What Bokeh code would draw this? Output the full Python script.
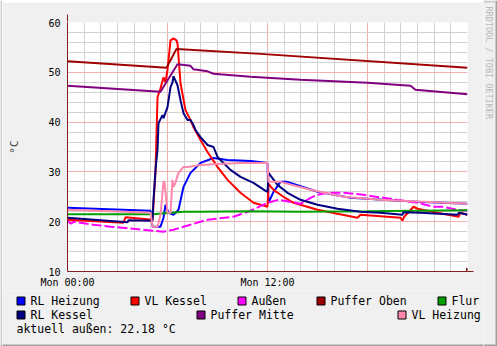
import math
from bokeh.plotting import figure
from bokeh.layouts import row, column
from bokeh.models import (Range1d, FixedTicker, SingleIntervalTicker, Arrow, NormalHead)
from bokeh.core.properties import value
from bokeh.embed import file_html
from bokeh.resources import INLINE

# ---------------- data (hours since Mon 00:00, °C) ----------------
rl_heizung_t = [0, 4.98, 5.1, 5.58, 5.76, 5.88, 6.06, 6.36, 6.66, 6.96, 7.38, 7.98, 8.76, 9.6, 11.0, 12.0,
                12.06, 12.36, 12.78, 13.2, 15.0, 16.98, 18.96, 21.0, 24]
rl_heizung_v = [22.8, 22.2, 19.0, 19.0, 20.8, 23.4, 21.8, 21.4, 22.4, 27.0, 29.8, 31.8, 32.8, 32.4, 32.2, 31.8,
                23.8, 26.0, 28.0, 28.0, 26.0, 24.8, 24.4, 24.0, 23.6]

vl_kessel_t = [0, 3.36, 3.48, 5.1, 5.28, 5.4, 5.58, 5.76, 5.88, 6.0, 6.18, 6.36, 6.54, 6.6, 6.78, 7.08, 7.38,
               7.56, 7.98, 8.4, 9.0, 9.6, 10.38, 11.16, 12.0, 12.06, 12.36, 12.96, 13.56, 15.0, 16.2, 17.4,
               17.58, 19.98, 20.1, 20.2, 20.76, 21.0, 22.2, 23.46, 23.58, 24]
vl_kessel_v = [20.4, 19.8, 20.9, 20.4, 30.0, 45.0, 46.8, 49.0, 48.0, 50.5, 56.4, 56.8, 56.4, 55.8, 47.8, 42.4,
               40.4, 39.0, 36.4, 34.0, 31.0, 28.4, 25.8, 23.8, 23.0, 27.6, 26.4, 25.0, 23.8, 22.4, 21.6, 20.8,
               21.4, 20.8, 20.2, 21.0, 23.0, 22.6, 21.8, 21.0, 21.8, 21.4]

aussen_t = [0, 0.2, 0.4, 1.56, 2.58, 3.96, 5.1, 5.76, 6.36, 7.38, 8.4, 9.96, 10.98, 12.0, 12.66, 13.98, 14.58,
            15.0, 15.6, 16.56, 17.76, 18.96, 20.58, 21.0, 21.96, 22.5, 23.4, 24]
aussen_v = [20.2, 19.6, 20.0, 19.4, 19.0, 18.6, 18.2, 18.0, 18.4, 19.4, 20.4, 21.0, 22.2, 23.8, 24.4, 23.6, 24.8,
            25.4, 25.8, 25.8, 25.4, 24.8, 24.0, 23.8, 23.0, 23.0, 22.4, 22.2]

puffer_oben_t = [0, 5.94, 6.54, 11.58, 24]
puffer_oben_v = [52.2, 50.9, 54.7, 53.7, 50.9]

flur_t = [0, 5.1, 6.96, 7.98, 10.98, 14.0, 18.0, 24]
flur_v = [21.5, 21.5, 22.0, 22.0, 22.1, 22.0, 22.1, 22.3]

rl_kessel_t = [0, 3.6, 3.66, 5.1, 5.16, 5.28, 5.4, 5.46, 5.7, 5.76, 6.0, 6.18, 6.3, 6.36, 6.6, 6.78, 6.96,
               7.2, 7.38, 7.56, 7.68, 7.98, 8.4, 8.76, 9.0, 9.36, 9.78, 10.38, 11.16, 11.88, 12.0, 12.06, 12.6,
               13.2, 13.98, 15.0, 16.2, 17.58, 18.78, 20.1, 20.16, 21.18, 23.4, 23.5, 24]
rl_kessel_v = [20.8, 19.9, 20.3, 20.2, 24.4, 30.4, 34.4, 39.8, 41.4, 40.8, 43.0, 47.0, 48.0, 49.2, 47.4, 44.4,
               41.8, 40.4, 40.4, 39.4, 38.4, 37.0, 35.4, 35.0, 33.0, 31.8, 30.4, 29.0, 27.8, 26.2, 26.0, 29.8,
               27.4, 25.8, 24.4, 23.4, 22.6, 22.0, 21.8, 21.4, 21.9, 21.8, 21.4, 21.8, 21.4]

puffer_mitte_t = [0, 5.58, 6.6, 7.38, 7.56, 8.4, 8.76, 10.98, 13.98, 18.0, 20.58, 20.88, 24]
puffer_mitte_v = [47.3, 46.1, 51.6, 51.3, 50.6, 50.2, 49.7, 49.1, 48.5, 47.9, 47.3, 46.5, 45.6]

vl_heizung_t = [0, 4.98, 5.1, 5.4, 5.58, 5.76, 5.82, 6.0, 6.18, 6.3, 6.36, 6.45, 6.66, 6.96, 7.2, 7.98, 9.0,
                10.38, 12.0, 12.06, 12.78, 14.58, 16.56, 18.78, 24]
vl_heizung_v = [22.4, 21.8, 19.0, 19.0, 21.4, 28.0, 28.0, 21.8, 21.8, 28.4, 27.0, 27.6, 29.8, 31.0, 31.0, 31.4,
                31.6, 31.8, 31.8, 28.0, 28.0, 26.4, 25.0, 24.4, 23.6]

x_tick_values = [0, 12]
x_tick_labels = ["Mon 00:00", "Mon 12:00"]
current_outside = "aktuell außen: 22.18 °C"
watermark = "RRDTOOL / TOBI OETIKER"

series_names = ["RL Heizung", "VL Kessel", "Außen", "Puffer Oben", "Flur",
                "RL Kessel", "Puffer Mitte", "VL Heizung"]
series_t = [rl_heizung_t, vl_kessel_t, aussen_t, puffer_oben_t, flur_t,
            rl_kessel_t, puffer_mitte_t, vl_heizung_t]
series_v = [rl_heizung_v, vl_kessel_v, aussen_v, puffer_oben_v, flur_v,
            rl_kessel_v, puffer_mitte_v, vl_heizung_v]
series_colors = ["#0000FF", "#FF0000", "#FF00FF", "#A00000", "#00A000",
                 "#000080", "#800080", "#FF88AA"]

FONT = "DejaVu Sans Mono"
AXIS_COL = "#802020"
BG = "#F0F0F0"
LIGHT = "#CBCBCB"
DARK = "#A0A0A0"

W, H = 497, 346
EDGE = 2          # shading strip width
SIDE_W = 14       # right strip with watermark
MAIN_W = W - EDGE - SIDE_W   # 481
MAIN_H = 288
LEG_H = H - EDGE - MAIN_H    # 56
FL, FR, FT, FB = 67, 467, 22, 272   # frame position on the page
X0, X1, Y0, Y1 = 0, 24, 10, 60


def blank(width, height, xr, yr):
    f = figure(width=width, height=height, output_backend="svg", toolbar_location=None, title=None,
               x_range=Range1d(*xr), y_range=Range1d(*yr),
               x_axis_location=None, y_axis_location=None,
               min_border=0, min_border_left=0, min_border_right=0,
               min_border_top=0, min_border_bottom=0, frame_align=False)
    f.background_fill_color = BG
    f.border_fill_color = BG
    f.outline_line_color = None
    f.grid.visible = False
    return f


# ---------------- main chart ----------------
p = figure(width=MAIN_W, height=MAIN_H, output_backend="svg", toolbar_location=None, title=None,
           x_range=Range1d(X0, X1), y_range=Range1d(Y0, Y1), frame_align=False,
           min_border_left=FL - EDGE, min_border_right=MAIN_W - (FR - EDGE),
           min_border_top=FT - EDGE, min_border_bottom=MAIN_H - (FB - EDGE))
p.border_fill_color = BG
p.background_fill_color = "#FFFFFF"
p.outline_line_color = None

p.xaxis.ticker = FixedTicker(ticks=x_tick_values)
p.xaxis.major_label_overrides = {t: l for t, l in zip(x_tick_values, x_tick_labels)}
p.yaxis.ticker = SingleIntervalTicker(interval=10, num_minor_ticks=5)
for ax in (p.xaxis[0], p.yaxis[0]):
    ax.axis_line_color = AXIS_COL
    ax.axis_line_width = 1
    ax.major_tick_line_color = None
    ax.minor_tick_line_color = None
    ax.major_tick_out = 0
    ax.major_tick_in = 0
    ax.minor_tick_out = 0
    ax.minor_tick_in = 0
    ax.major_label_text_font = FONT
    ax.major_label_text_font_size = "10px"
    ax.major_label_text_color = "#000000"
p.xaxis.major_label_standoff = 5
p.yaxis.major_label_standoff = 7
p.yaxis.axis_label = "°C"
p.yaxis.axis_label_text_font = FONT
p.yaxis.axis_label_text_font_size = "11px"
p.yaxis.axis_label_text_font_style = "normal"
p.yaxis.axis_label_standoff = 24

p.xgrid.ticker = SingleIntervalTicker(interval=6, num_minor_ticks=6)
p.ygrid.ticker = SingleIntervalTicker(interval=10, num_minor_ticks=5)
for g in (p.xgrid[0], p.ygrid[0]):
    g.grid_line_color = "#F2B0B0"
    g.grid_line_width = 1
    g.minor_grid_line_color = "#D2D2D2"
    g.minor_grid_line_width = 1

for name, t, v, col in zip(series_names, series_t, series_v, series_colors):
    kw = dict(line_color=col, line_width=2)
    if name == "Außen":
        kw["line_dash"] = "10 3"
    p.line(t, v, **kw)

# arrow heads at the axis ends (one pixel = 0.2 °C vertically, 0.06 h horizontally)
p.add_layout(Arrow(end=NormalHead(size=7, fill_color=AXIS_COL, line_color=AXIS_COL, line_width=1),
                   x_start=X0, y_start=Y1 - 1, x_end=X0, y_end=Y1 + 8 * 0.2,
                   line_color=AXIS_COL, line_width=1))
p.add_layout(Arrow(end=NormalHead(size=7, fill_color=AXIS_COL, line_color=AXIS_COL, line_width=1),
                   x_start=X1 - 1, y_start=Y0, x_end=X1 + 6 * 0.06, y_end=Y0,
                   line_color=AXIS_COL, line_width=1))

# ---------------- legend strip (page pixel coordinates) ----------------
leg = blank(MAIN_W, LEG_H, (EDGE, EDGE + MAIN_W), (H, H - LEG_H))
legend_x = [16, 130, 237, 316, 437, 16, 196, 397]
legend_y = [300.5, 300.5, 300.5, 300.5, 300.5, 314.5, 314.5, 314.5]
leg.quad(left=[x + 0.5 for x in legend_x], right=[x + 8.5 for x in legend_x],
         top=[y - 4 for y in legend_y], bottom=[y + 4 for y in legend_y],
         fill_color=series_colors, line_color="#000000", line_width=1)
leg.text(x=[x + 14 for x in legend_x], y=legend_y, text=series_names,
         text_font=value(FONT), text_font_size=value("11.5px"), text_color="#000000",
         text_baseline="middle", text_align="left")
leg.text(x=[16], y=[328], text=[current_outside],
         text_font=value(FONT), text_font_size=value("11.5px"), text_color="#000000",
         text_baseline="middle", text_align="left")
leg.quad(left=[EDGE], right=[EDGE + MAIN_W], top=[H - EDGE], bottom=[H],
         fill_color=DARK, line_color=None)

# ---------------- top and left shading strips ----------------
top = blank(MAIN_W, EDGE, (EDGE, EDGE + MAIN_W), (EDGE, 0))
top.quad(left=[EDGE], right=[EDGE + MAIN_W], top=[0], bottom=[EDGE], fill_color=LIGHT, line_color=None)

left = blank(EDGE, H, (0, EDGE), (H, 0))
left.quad(left=[0], right=[EDGE], top=[0], bottom=[H - EDGE], fill_color=LIGHT, line_color=None)
left.quad(left=[0], right=[EDGE], top=[H - EDGE], bottom=[H], fill_color=DARK, line_color=None)

# ---------------- right strip with watermark ----------------
side = blank(SIDE_W, H, (W - SIDE_W, W), (H, 0))
side.quad(left=[W - EDGE], right=[W], top=[0], bottom=[H], fill_color=DARK, line_color=None)
side.quad(left=[W - SIDE_W], right=[W], top=[H - EDGE], bottom=[H], fill_color=DARK, line_color=None)
side.quad(left=[W - SIDE_W], right=[W - EDGE], top=[0], bottom=[EDGE], fill_color=LIGHT, line_color=None)
side.text(x=[488], y=[6], text=[watermark], angle=-math.pi / 2,
          text_font=value(FONT), text_font_size=value("8.5px"), text_color="#B8B8B8",
          text_baseline="middle", text_align="left")

layout = row(left, column(top, p, leg, spacing=0), side, spacing=0)
open("out.html", "w").write(file_html(layout, INLINE))
